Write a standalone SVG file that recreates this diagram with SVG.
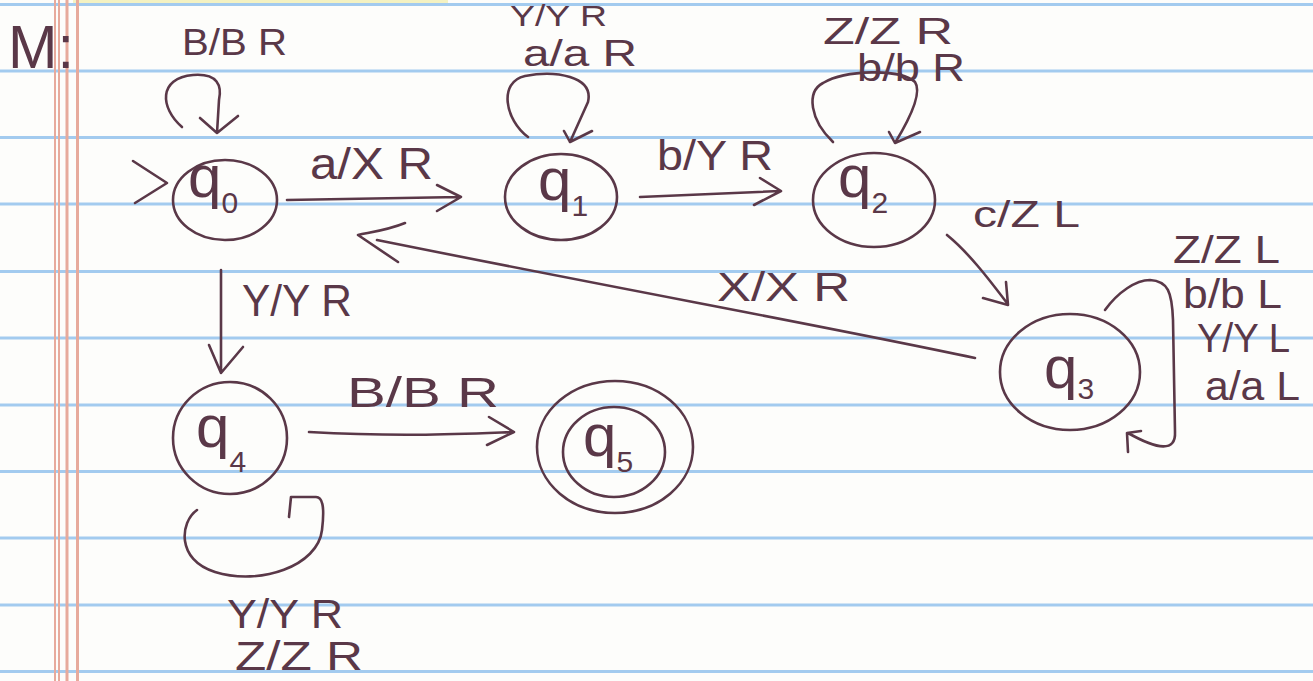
<svg xmlns="http://www.w3.org/2000/svg" width="1313" height="681" viewBox="0 0 1313 681">
<style>
.paper{fill:#fdfdfb}
.rule{stroke:#a3cbef;stroke-width:3}
.margin{stroke:#e7aa9c;stroke-width:3}
.ink{fill:none;stroke:#5a3848;stroke-width:2.6;stroke-linecap:round;stroke-linejoin:round}
.lbl{font-family:"Liberation Sans",Arial,sans-serif;fill:#5a3848;font-size:40px}
.q{font-family:"Liberation Sans",Arial,sans-serif;fill:#5a3848;font-size:60px}
.sub{font-family:"Liberation Sans",Arial,sans-serif;fill:#5a3848;font-size:30px}
</style>
<g id="paper">
<rect class="paper" x="0" y="0" width="1313" height="681"/>
<rect x="73" y="0" width="375" height="4" fill="#f4f2c2"/>
<line class="rule" x1="0" y1="4.5" x2="1313" y2="4.5"/>
<line class="rule" x1="0" y1="71" x2="1313" y2="71"/>
<line class="rule" x1="0" y1="137.5" x2="1313" y2="137.5"/>
<line class="rule" x1="0" y1="204" x2="1313" y2="204"/>
<line class="rule" x1="0" y1="271.5" x2="1313" y2="271.5"/>
<line class="rule" x1="0" y1="338" x2="1313" y2="338"/>
<line class="rule" x1="0" y1="405" x2="1313" y2="405"/>
<line class="rule" x1="0" y1="471.5" x2="1313" y2="471.5"/>
<line class="rule" x1="0" y1="538" x2="1313" y2="538"/>
<line class="rule" x1="0" y1="605" x2="1313" y2="605"/>
<line class="rule" x1="0" y1="671.5" x2="1313" y2="671.5"/>
<line class="margin" x1="55" y1="0" x2="55" y2="681" style="stroke-width:2"/>
<line class="margin" x1="59" y1="0" x2="59" y2="681" style="stroke-width:2"/>
<line class="margin" x1="67" y1="0" x2="67" y2="681"/>
<line class="margin" x1="77.5" y1="0" x2="77.5" y2="681"/>
</g>
<g id="title">
<text class="lbl" x="8" y="68" style="font-size:62px" textLength="66" lengthAdjust="spacingAndGlyphs">M:</text>
</g>
<g id="q0">
<ellipse class="ink" cx="225" cy="200" rx="52" ry="40"/>
<text class="q" x="188" y="197">q<tspan class="sub" dy="16">0</tspan></text>
</g>
<g id="q1">
<ellipse class="ink" cx="561" cy="197" rx="56" ry="43"/>
<text class="q" x="538" y="200">q<tspan class="sub" dy="16">1</tspan></text>
</g>
<g id="q2">
<ellipse class="ink" cx="874" cy="200" rx="61" ry="47"/>
<text class="q" x="838" y="197">q<tspan class="sub" dy="16">2</tspan></text>
</g>
<g id="q3">
<ellipse class="ink" cx="1070" cy="372" rx="70" ry="58"/>
<text class="q" x="1044" y="388">q<tspan class="sub" dy="11">3</tspan></text>
</g>
<g id="q4">
<ellipse class="ink" cx="230" cy="438" rx="57" ry="56"/>
<text class="q" x="196" y="447">q<tspan class="sub" dy="25">4</tspan></text>
</g>
<g id="q5">
<ellipse class="ink" cx="615" cy="447" rx="78" ry="66"/>
<ellipse class="ink" cx="614" cy="452" rx="51" ry="45"/>
<text class="q" x="583" y="456">q<tspan class="sub" dy="16">5</tspan></text>
</g>
<g id="connectors">
<path class="ink" d="M133,161 L167,183 L135,203"/>
<path class="ink" d="M182,127 C160,108 158,78 193,75 C218,73 222,86 219,100 L217,133 M200,118 L217,133 L238,116"/>
<path class="ink" d="M287,200 L460,197 M437,185 L461,197 L437,211"/>
<path class="ink" d="M528,137 C505,120 498,82 525,76 C555,70 594,76 588,102 L570,142 M564,131 L570,142 L592,131"/>
<path class="ink" d="M640,197 L780,191 M760,178 L781,191 L754,205"/>
<path class="ink" d="M833,142 C810,120 806,92 823,83 C845,70 900,68 915,82 C922,92 912,115 895,143 M889,132 L895,143 L920,132"/>
<path class="ink" d="M947,235 C968,252 988,278 1007,303 M983,298 L1008,305 L1006,282"/>
<path class="ink" d="M1105,310 C1118,292 1136,280 1150,280 C1168,281 1172,292 1173,320 L1175,432 C1176,452 1158,450 1128,433 M1141,431 L1127,433 L1128,452"/>
<path class="ink" d="M975,358 C820,325 640,293 377,240 M405,223 C388,230 372,232 358,235 L398,262"/>
<path class="ink" d="M221,270 L221,373 M209,345 L221,373 L243,347"/>
<path class="ink" d="M309,432 C400,437 460,434 514,432 M489,417 L514,432 L487,445"/>
<path class="ink" d="M197,510 C180,522 176,560 215,572 C260,586 318,566 322,530 C325,505 322,497 316,497 L291,497 L289,517"/>
</g>
<g id="edge-labels">
<text class="lbl" x="182" y="55" style="font-size:36px" textLength="105" lengthAdjust="spacingAndGlyphs">B/B R</text>
<text class="lbl" x="510" y="26" style="font-size:30px" textLength="97" lengthAdjust="spacingAndGlyphs">Y/Y R</text>
<text class="lbl" x="523" y="66" style="font-size:36px" textLength="114" lengthAdjust="spacingAndGlyphs">a/a R</text>
<text class="lbl" x="823" y="44" style="font-size:36px" textLength="130" lengthAdjust="spacingAndGlyphs">Z/Z R</text>
<text class="lbl" x="857" y="81" style="font-size:38px" textLength="108" lengthAdjust="spacingAndGlyphs">b/b R</text>
<text class="lbl" x="310" y="179" style="font-size:44px" textLength="123" lengthAdjust="spacingAndGlyphs">a/X R</text>
<text class="lbl" x="657" y="170" style="font-size:42px" textLength="116" lengthAdjust="spacingAndGlyphs">b/Y R</text>
<text class="lbl" x="973" y="227" style="font-size:36px" textLength="107" lengthAdjust="spacingAndGlyphs">c/Z L</text>
<text class="lbl" x="1173" y="263" style="font-size:38px" textLength="107" lengthAdjust="spacingAndGlyphs">Z/Z L</text>
<text class="lbl" x="1183" y="308" style="font-size:40px" textLength="99" lengthAdjust="spacingAndGlyphs">b/b L</text>
<text class="lbl" x="1197" y="352" style="font-size:40px" textLength="93" lengthAdjust="spacingAndGlyphs">Y/Y L</text>
<text class="lbl" x="1205" y="400" style="font-size:40px" textLength="95" lengthAdjust="spacingAndGlyphs">a/a L</text>
<text class="lbl" x="717" y="301" style="font-size:40px" textLength="133" lengthAdjust="spacingAndGlyphs">X/X R</text>
<text class="lbl" x="242" y="316" style="font-size:44px" textLength="110" lengthAdjust="spacingAndGlyphs">Y/Y R</text>
<text class="lbl" x="347" y="407" style="font-size:42px" textLength="152" lengthAdjust="spacingAndGlyphs">B/B R</text>
<text class="lbl" x="227" y="628" style="font-size:40px" textLength="116" lengthAdjust="spacingAndGlyphs">Y/Y R</text>
<text class="lbl" x="235" y="670" style="font-size:40px" textLength="128" lengthAdjust="spacingAndGlyphs">Z/Z R</text>
</g>
</svg>
